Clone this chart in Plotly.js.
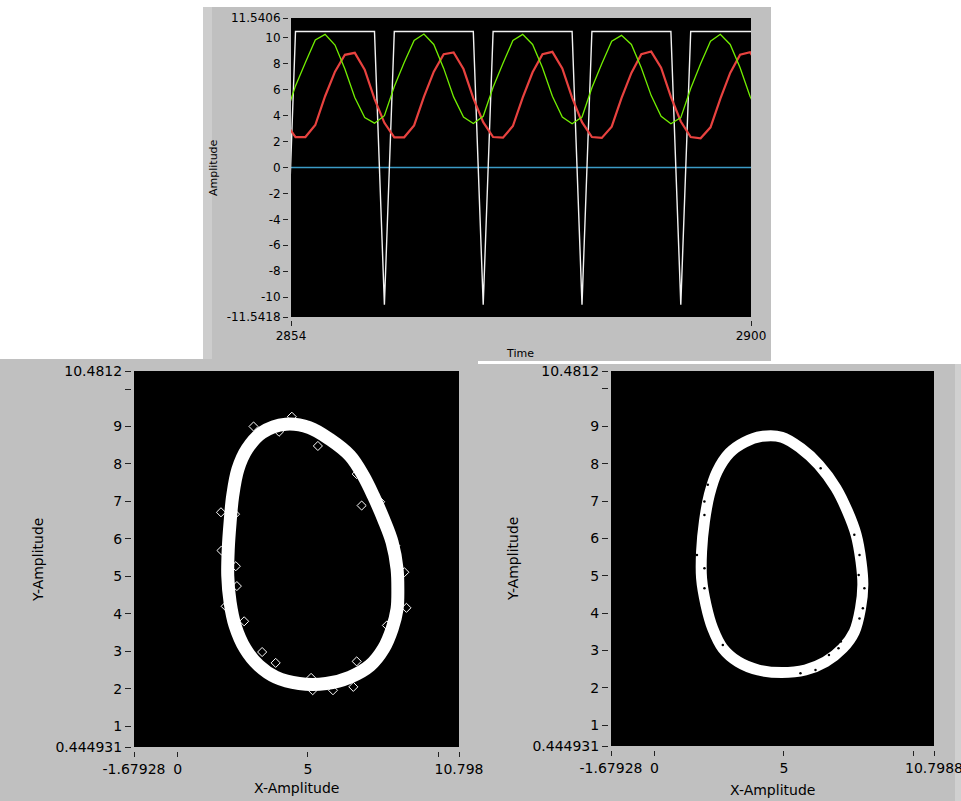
<!DOCTYPE html>
<html>
<head>
<meta charset="utf-8">
<script src="https://cdn.plot.ly/plotly-3.0.1.min.js"></script>
<style>html,body{margin:0;padding:0;background:#fff;}#chart{width:961px;height:801px;}</style>
</head>
<body>
<div id="chart"></div>
<script>
// ---------- Top waveform chart ----------
const time = [2853.46, 2854.45, 2855.44, 2856.43, 2857.41, 2858.40, 2859.39, 2860.38, 2861.37, 2862.35,
  2863.34, 2864.33, 2865.32, 2866.31, 2867.29, 2868.28, 2869.27, 2870.26, 2871.25, 2872.23,
  2873.22, 2874.21, 2875.20, 2876.19, 2877.17, 2878.16, 2879.15, 2880.14, 2881.13, 2882.11,
  2883.10, 2884.09, 2885.08, 2886.07, 2887.05, 2888.04, 2889.03, 2890.02, 2891.01, 2891.99,
  2892.98, 2893.97, 2894.96, 2895.95, 2896.93, 2897.92, 2898.91, 2899.90, 2900.89];
const squareWave = [-10.6, 10.5, 10.5, 10.5, 10.5, 10.5, 10.5, 10.5, 10.5, 10.5,
  -10.6, 10.5, 10.5, 10.5, 10.5, 10.5, 10.5, 10.5, 10.5, 10.5,
  -10.6, 10.5, 10.5, 10.5, 10.5, 10.5, 10.5, 10.5, 10.5, 10.5,
  -10.6, 10.5, 10.5, 10.5, 10.5, 10.5, 10.5, 10.5, 10.5, 10.5,
  -10.6, 10.5, 10.5, 10.5, 10.5, 10.5, 10.5, 10.5, 10.5];
const greenSignal = [4.0, 6.3, 8.1, 9.85, 10.28, 9.45, 7.6, 5.4, 3.85, 3.42,
  4.0, 6.25, 8.1, 9.8, 10.3, 9.5, 7.65, 5.45, 3.9, 3.4,
  3.95, 6.2, 8.05, 9.8, 10.28, 9.5, 7.7, 5.5, 3.9, 3.38,
  3.9, 6.15, 8.0, 9.75, 10.2, 9.5, 7.7, 5.55, 3.95, 3.38,
  3.85, 6.1, 8.0, 9.75, 10.28, 9.5, 7.7, 5.5, 3.95];
const redSignal = [3.45, 2.35, 2.35, 3.28, 5.5, 7.4, 8.7, 8.85, 7.55, 5.3,
  3.45, 2.33, 2.33, 3.25, 5.45, 7.4, 8.75, 8.88, 7.6, 5.35,
  3.5, 2.35, 2.3, 3.2, 5.4, 7.35, 8.75, 8.93, 7.65, 5.4,
  3.5, 2.35, 2.28, 3.15, 5.35, 7.3, 8.75, 8.95, 7.7, 5.45,
  3.55, 2.35, 2.25, 3.1, 5.3, 7.3, 8.7, 8.9, 7.7];
const zeroTime = [2854, 2900];
const zeroSignal = [0, 0];
const timeTicks = [2854, 2900];
const ampTicks = [-11.5418, -10, -8, -6, -4, -2, 0, 2, 4, 6, 8, 10, 11.5406];
const ampTickText = ['-11.5418', '-10', '-8', '-6', '-4', '-2', '0', '2', '4', '6', '8', '10', '11.5406'];

// ---------- Bottom-left XY graph ----------
const leftRingX = [4.15, 5.05, 5.83, 6.61, 7.12, 7.51, 7.90, 8.23, 8.42, 8.45, 8.42, 8.23, 7.90, 7.38, 6.61, 5.70,
  4.66, 3.76, 3.11, 2.59, 2.20, 2.01, 1.92, 1.94, 2.01, 2.11, 2.31, 2.66, 3.24, 4.15];
const leftRingY = [9.06, 8.97, 8.66, 8.22, 7.69, 7.15, 6.53, 5.91, 5.20, 4.67, 4.13, 3.60, 3.07, 2.62, 2.31, 2.14,
  2.14, 2.31, 2.62, 3.07, 3.69, 4.31, 5.02, 5.73, 6.44, 7.15, 7.86, 8.40, 8.84, 9.06];
const leftOutX = [4.38, 7.77, 8.78, 6.87, 1.66, 2.23, 2.27, 1.84, 2.55, 3.24, 3.76, 5.12, 5.96, 5.18, 6.74,
  2.91, 5.05, 3.89, 7.06, 8.03, 8.70, 1.68, 2.20, 5.38, 6.87, 8.35];
const leftOutY = [9.26, 6.99, 4.16, 2.73, 6.71, 5.27, 4.74, 4.20, 3.80, 2.98, 2.69, 2.29, 1.96, 1.96, 2.05,
  9.00, 9.02, 8.86, 6.89, 3.69, 5.11, 5.69, 6.66, 8.48, 7.73, 5.82];
const leftXTicks = [-1.67928, 0, 5, 10, 10.798];
const leftXTickText = ['-1.67928', '0', '5', '', '10.798'];

// ---------- Bottom-right XY graph ----------
const rightRingX = [4.14, 4.92, 5.64, 6.35, 7.01, 7.46, 7.79, 7.98, 8.05, 7.96, 7.72, 7.27, 6.61, 5.83, 4.92,
  4.01, 3.23, 2.64, 2.25, 1.99, 1.82, 1.82, 1.93, 2.12, 2.42, 2.90, 3.49, 4.14];
const rightRingY = [8.73, 8.71, 8.42, 7.97, 7.35, 6.72, 6.10, 5.38, 4.76, 4.13, 3.50, 3.06, 2.70, 2.48, 2.41,
  2.48, 2.70, 3.06, 3.59, 4.22, 4.93, 5.65, 6.45, 7.17, 7.79, 8.29, 8.58, 8.73];
const rightDotX = [7.72, 7.92, 7.89, 8.11, 8.05, 7.92, 7.20, 7.11, 6.74, 6.22, 5.64, 2.06, 1.93, 1.93, 1.64, 1.93, 1.93, 2.64, 6.42];
const rightDotY = [6.10, 5.56, 5.02, 4.67, 4.13, 3.86, 3.24, 3.06, 2.88, 2.48, 2.39, 7.44, 6.99, 6.63, 5.56, 5.20, 4.67, 3.15, 7.88];
const rightXTicks = [-1.67928, 0, 5, 10, 10.7988];
const rightXTickText = ['-1.67928', '0', '5', '', '10.7988'];
const xyYTicks = [0.444931, 1, 2, 3, 4, 5, 6, 7, 8, 9, 10, 10.4812];
const xyYTickText = ['0.444931', '1', '2', '3', '4', '5', '6', '7', '8', '9', '', '10.4812'];

const W = 961, H = 801;
const px = v => v / W;
const py = v => 1 - v / H;

const traces = [
  {x: zeroTime, y: zeroSignal, xaxis: 'x', yaxis: 'y', mode: 'lines', line: {color: '#3b9bc6', width: 1.5}, name: 'ch4'},
  {x: time, y: squareWave, xaxis: 'x', yaxis: 'y', mode: 'lines', line: {color: '#f2f2f2', width: 1.4}, name: 'square'},
  {x: time, y: redSignal, xaxis: 'x', yaxis: 'y', mode: 'lines', line: {color: '#e8423f', width: 2.2}, name: 'red'},
  {x: time, y: greenSignal, xaxis: 'x', yaxis: 'y', mode: 'lines', line: {color: '#72ee00', width: 1.3}, name: 'green'},
  {x: leftRingX, y: leftRingY, xaxis: 'x2', yaxis: 'y2', mode: 'lines', line: {color: '#ffffff', width: 13, shape: 'spline', smoothing: 1}},
  {x: leftOutX, y: leftOutY, xaxis: 'x2', yaxis: 'y2', mode: 'markers', marker: {symbol: 'diamond-open', size: 7, color: '#ffffff', line: {width: 1, color: '#ffffff'}}},
  {x: rightRingX, y: rightRingY, xaxis: 'x3', yaxis: 'y3', mode: 'lines', line: {color: '#ffffff', width: 11, shape: 'spline', smoothing: 1}},
  {x: rightDotX, y: rightDotY, xaxis: 'x3', yaxis: 'y3', mode: 'markers', marker: {size: 2.5, color: '#000000'}}
];

const tickCommon = {ticks: 'outside', tickcolor: '#222', tickwidth: 1, showgrid: false, zeroline: false, showline: false,
  fixedrange: true, ticklabeloverflow: 'allow'};

const panel = (x0, x1, y0, y1, color) => ({type: 'rect', xref: 'paper', yref: 'paper', layer: 'below',
  x0: px(x0), x1: px(x1), y0: py(y1), y1: py(y0), fillcolor: color, line: {width: 0}});

const layout = {
  width: W, height: H,
  margin: {l: 0, r: 0, t: 0, b: 0},
  paper_bgcolor: '#ffffff',
  plot_bgcolor: '#000000',
  showlegend: false,
  font: {family: 'DejaVu Sans', color: '#000000', size: 12},
  xaxis: Object.assign({}, tickCommon, {domain: [px(291), px(751)], anchor: 'free', position: py(320), range: [2854, 2900],
    tickvals: timeTicks, ticktext: timeTicks.map(String), ticklen: 5, tickfont: {size: 12}}),
  yaxis: Object.assign({}, tickCommon, {domain: [py(317), py(18)], anchor: 'free', position: px(288), range: [-11.5418, 11.5406],
    tickvals: ampTicks, ticktext: ampTickText, ticklen: 5, tickfont: {size: 12}}),
  xaxis2: Object.assign({}, tickCommon, {domain: [px(134), px(459)], anchor: 'free', position: py(751), range: [-1.67928, 10.798],
    tickvals: leftXTicks, ticktext: leftXTickText, ticklen: 5, tickfont: {size: 14}}),
  yaxis2: Object.assign({}, tickCommon, {domain: [py(747), py(371)], anchor: 'free', position: px(131), range: [0.444931, 10.4812],
    tickvals: xyYTicks, ticktext: xyYTickText, ticklen: 6, tickfont: {size: 14}}),
  xaxis3: Object.assign({}, tickCommon, {domain: [px(611), px(934)], anchor: 'free', position: py(750), range: [-1.67928, 10.7988],
    tickvals: rightXTicks, ticktext: rightXTickText, ticklen: 5, tickfont: {size: 14}}),
  yaxis3: Object.assign({}, tickCommon, {domain: [py(746), py(371)], anchor: 'free', position: px(608), range: [0.444931, 10.4812],
    tickvals: xyYTicks, ticktext: xyYTickText, ticklen: 6, tickfont: {size: 14}}),
  shapes: [
    panel(203, 771, 7, 361, '#c0c0c0'),
    panel(203, 212, 7, 361, '#cdcdcd'),
    panel(0, 478, 359, 801, '#c0c0c0'),
    panel(478, 961, 364, 801, '#c0c0c0'),
    panel(955, 961, 364, 801, '#d0d0d0'),
    panel(291, 751, 18, 317, '#000000'),
    panel(134, 459, 371, 747, '#000000'),
    panel(611, 934, 371, 746, '#000000')
  ],
  annotations: [
    {text: 'Amplitude', xref: 'paper', yref: 'paper', x: px(213), y: py(168), textangle: -90, showarrow: false, font: {size: 11}, xanchor: 'center', yanchor: 'middle'},
    {text: 'Time', xref: 'paper', yref: 'paper', x: px(520), y: py(353), showarrow: false, font: {size: 11}, xanchor: 'center', yanchor: 'middle'},
    {text: 'Y-Amplitude', xref: 'paper', yref: 'paper', x: px(38), y: py(560), textangle: -90, showarrow: false, font: {size: 14}, xanchor: 'center', yanchor: 'middle'},
    {text: 'X-Amplitude', xref: 'paper', yref: 'paper', x: px(296), y: py(788), showarrow: false, font: {size: 14}, xanchor: 'center', yanchor: 'middle'},
    {text: 'Y-Amplitude', xref: 'paper', yref: 'paper', x: px(513), y: py(559), textangle: -90, showarrow: false, font: {size: 14}, xanchor: 'center', yanchor: 'middle'},
    {text: 'X-Amplitude', xref: 'paper', yref: 'paper', x: px(772), y: py(790), showarrow: false, font: {size: 14}, xanchor: 'center', yanchor: 'middle'}
  ]
};

Plotly.newPlot('chart', traces, layout, {displayModeBar: false, staticPlot: true});
</script>
</body>
</html>
